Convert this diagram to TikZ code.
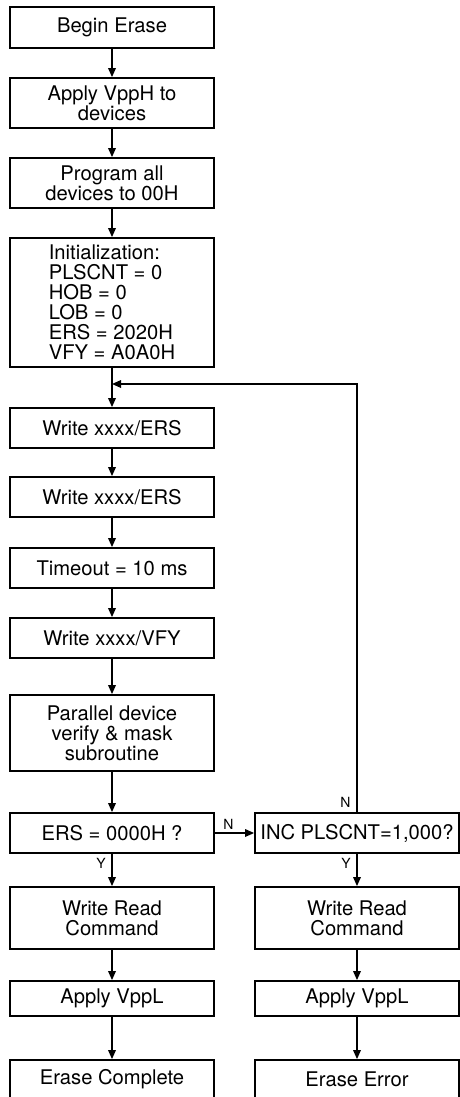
\documentclass[tikz,border=0pt]{standalone}
\usepackage{fontspec}
\setmainfont{TeX Gyre Heros}
\usetikzlibrary{positioning,arrows.meta,calc}
\tikzset{
  >={Triangle[length=4.5pt,width=3.8pt]},
  every node/.style={font=\fontsize{10.1}{10}\selectfont},
  % --- nodes
  box/.style  = {draw, line width=0.9pt, align=center, inner sep=0pt,
                 minimum width=102pt},
  lbl/.style  = {font=\fontsize{7}{8}\selectfont, inner sep=1pt},
  % --- edges
  e/.style    = {->, line width=0.7pt},
}

\begin{document}
\begin{tikzpicture}[x=0.5pt,y=-0.5pt]
  \useasboundingbox (0,0) rectangle (460,1097);
  % --- left column
  \node[box, minimum height=20.5pt] (begin) at (112,27.5)  {Begin Erase};
  \node[box, minimum height=25pt]   (vpph)  at (112,103)   {Apply VppH to\\devices};
  \node[box, minimum height=25pt]   (prog)  at (112,183)   {Program all\\devices to 00H};
  \node[box, minimum height=64.5pt, align=left] (init) at (112,302.5)
       {Initialization:\\PLSCNT = 0\\HOB = 0\\LOB = 0\\ERS = 2020H\\VFY = A0A0H};
  \node[box, minimum height=20pt]   (ersa)  at (112,428)   {Write xxxx/ERS};
  \node[box, minimum height=20pt]   (ersb)  at (112,497)   {Write xxxx/ERS};
  \node[box, minimum height=20pt]   (tout)  at (112,568)   {Timeout = 10 ms};
  \node[box, minimum height=20pt]   (vfy)   at (112,638)   {Write xxxx/VFY};
  \node[box, minimum height=38pt]   (par)   at (112,733)   {Parallel device\\verify \& mask\\subroutine};
  \node[box, minimum height=20pt]   (ersq)  at (112,833)   {ERS = 0000H ?};
  \node[box, minimum height=31pt]   (rdl)   at (112,918)   {Write Read\\Command};
  \node[box, minimum height=17.5pt] (vppl)  at (112,998.5) {Apply VppL};
  \node[box, minimum height=19pt]   (done)  at (112,1079)  {Erase Complete};
  % --- right column
  \node[box, minimum height=20pt]   (inc)   at (357,833)   {INC PLSCNT=1,000?};
  \node[box, minimum height=31pt]   (rdr)   at (357,918)   {Write Read\\Command};
  \node[box, minimum height=17.5pt] (vppr)  at (357,998.5) {Apply VppL};
  \node[box, minimum height=19pt]   (err)   at (357,1079)  {Erase Error};
  \coordinate (loop) at (112,384);
  % --- edges
  \draw[e] (begin)--(vpph); \draw[e] (vpph)--(prog); \draw[e] (prog)--(init);
  \draw[e] (init)--(ersa);  \draw[e] (ersa)--(ersb); \draw[e] (ersb)--(tout);
  \draw[e] (tout)--(vfy);   \draw[e] (vfy)--(par);   \draw[e] (par)--(ersq);
  \draw[e] (ersq)--(rdl);   \draw[e] (rdl)--(vppl);  \draw[e] (vppl)--(done);
  \draw[e] (ersq)--(inc);
  \draw[e] (inc)--(rdr);    \draw[e] (rdr)--(vppr);  \draw[e] (vppr)--(err);
  \draw[e] (inc.north) |- (loop);
  % --- branch labels
  \node[lbl, above right=0.5pt and 3pt] at (ersq.east)  {N};
  \node[lbl, below left=1pt and 2pt]    at (ersq.south) {Y};
  \node[lbl, above left=1pt and 2pt]    at (inc.north)  {N};
  \node[lbl, below left=1pt and 2pt]    at (inc.south)  {Y};
\end{tikzpicture}
\end{document}
